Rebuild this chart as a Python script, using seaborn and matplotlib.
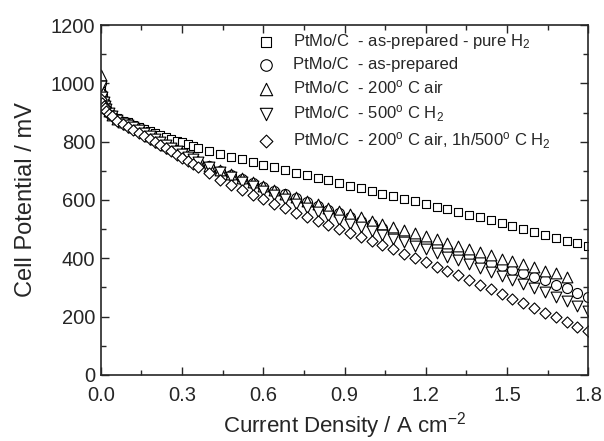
import numpy as np
import pandas as pd
import matplotlib
matplotlib.use("Agg")
from matplotlib import pyplot as plt
from matplotlib.ticker import MultipleLocator
import seaborn as sns

sns.set_style("ticks")
plt.rcParams["font.family"] = ["Liberation Sans", "DejaVu Sans"]
plt.rcParams["mathtext.fontset"] = "custom"
plt.rcParams["mathtext.rm"] = "Liberation Sans"
plt.rcParams["mathtext.it"] = "Liberation Sans:italic"

# current density (A cm-2), shared by all series
current = [0, 0.005, 0.01, 0.015, 0.02, 0.03, 0.04, 0.06, 0.08,
           0.10, 0.12, 0.14, 0.16, 0.18, 0.20, 0.22, 0.24, 0.26, 0.28,
           0.30, 0.32, 0.34, 0.36,
           0.40, 0.44, 0.48, 0.52, 0.56, 0.60, 0.64, 0.68, 0.72, 0.76,
           0.80, 0.84, 0.88, 0.92, 0.96, 1.00, 1.04, 1.08, 1.12, 1.16,
           1.20, 1.24, 1.28, 1.32, 1.36, 1.40, 1.44, 1.48, 1.52, 1.56,
           1.60, 1.64, 1.68, 1.72, 1.76, 1.80]

# cell potential (mV)
pure_h2 = [995, 960, 940, 927, 917, 903, 893, 880, 872,
           866, 857, 850, 843, 836, 829, 822, 816, 810, 804,
           798, 792, 786, 780,
           768, 757, 748, 739, 730, 721, 712, 703, 694, 685,
           676, 667, 658, 649, 640, 631, 622, 613, 604, 595,
           586, 577, 568, 559, 549, 540, 530, 521, 511, 501,
           491, 481, 471, 461, 451, 441]
as_prepared = [1000, 962, 940, 926, 915, 900, 890, 877, 867,
               860, 850, 840, 830, 819, 809, 798, 788, 778, 768,
               758, 749, 740, 732,
               716, 700, 686, 672, 658, 645, 632, 619, 606, 593,
               580, 567, 554, 541, 528, 516, 503, 490, 477, 464,
               453, 442, 431, 420, 408, 396, 385, 373, 361, 349,
               337, 324, 310, 297, 282, 266]
air_200 = [1030, 975, 948, 932, 920, 904, 893, 879, 869,
           862, 852, 842, 832, 821, 811, 800, 790, 780, 770,
           760, 751, 742, 734,
           718, 703, 689, 675, 661, 648, 635, 622, 610, 598,
           586, 574, 563, 551, 540, 529, 518, 507, 497, 487,
           476, 465, 454, 443, 432, 421, 410, 399, 389, 379,
           369, 358, 348, 337, np.nan, np.nan]
h2_500 = [990, 955, 935, 922, 912, 898, 888, 875, 865,
          858, 851, 841, 831, 820, 810, 799, 789, 778, 768,
          758, 748, 739, 730,
          712, 695, 678, 662, 647, 632, 617, 602, 586, 571,
          558, 545, 532, 519, 506, 493, 480, 467, 455, 443,
          431, 418, 405, 393, 380, 366, 353, 339, 325, 311,
          297, 283, 268, 252, 236, 219]
air_h2 = [945, 932, 922, 914, 907, 896, 887, 872, 860,
          850, 840, 830, 820, 810, 800, 789, 778, 767, 756,
          745, 735, 724, 713,
          691, 670, 651, 634, 618, 602, 587, 572, 557, 543,
          529, 515, 501, 487, 473, 459, 445, 431, 416, 401,
          386, 371, 356, 341, 325, 309, 293, 277, 261, 245,
          229, 213, 197, 181, 165, 149]

labels = [
    r"PtMo/C  - as-prepared - pure H$_2$",
    r"PtMo/C  - as-prepared",
    r"PtMo/C  - 200$^{\rm o}$ C air",
    r"PtMo/C  - 500$^{\rm o}$ C H$_2$",
    r"PtMo/C  - 200$^{\rm o}$ C air, 1h/500$^{\rm o}$ C H$_2$",
]
series = [pure_h2, as_prepared, air_200, h2_500, air_h2]
markers = ["s", "o", "^", "v", "D"]
sizes = [40, 52, 60, 60, 32]

fig = plt.figure(figsize=(6.04, 4.41), dpi=100)
ax = fig.add_axes([0.167, 0.150, 0.807, 0.793])

for lab, v, m, s in zip(labels, series, markers, sizes):
    df = pd.DataFrame({"I": current, "V": v})
    sns.scatterplot(data=df, x="I", y="V", marker=m, s=s, facecolor="white",
                    edgecolor="black", linewidth=0.8, label=lab, ax=ax)

ax.set_xlim(0, 1.8)
ax.set_ylim(0, 1200)
ax.xaxis.set_major_locator(MultipleLocator(0.3))
ax.xaxis.set_minor_locator(MultipleLocator(0.15))
ax.yaxis.set_major_locator(MultipleLocator(200))
ax.yaxis.set_minor_locator(MultipleLocator(100))
ax.set_xticklabels([f"{t:.1f}" for t in ax.get_xticks()])
ax.tick_params(which="both", direction="in", top=True, right=True, width=1)
ax.tick_params(which="major", length=6, labelsize=14.5)
ax.tick_params(axis="x", which="major", pad=8)
ax.tick_params(axis="y", which="major", pad=4)
ax.tick_params(which="minor", length=3.5)
for sp in ax.spines.values():
    sp.set_linewidth(1.2)

ax.set_xlabel("Current Density / A cm$^{-2}$", fontsize=16, labelpad=4)
ax.set_ylabel("Cell Potential / mV", fontsize=17, labelpad=10)

ax.legend(loc="upper left", bbox_to_anchor=(0.284, 1.009), frameon=False,
          fontsize=12, labelspacing=0.38, handletextpad=0.6, borderaxespad=0.2,
          markerscale=1.15)

fig.savefig("out.png", dpi=100)
